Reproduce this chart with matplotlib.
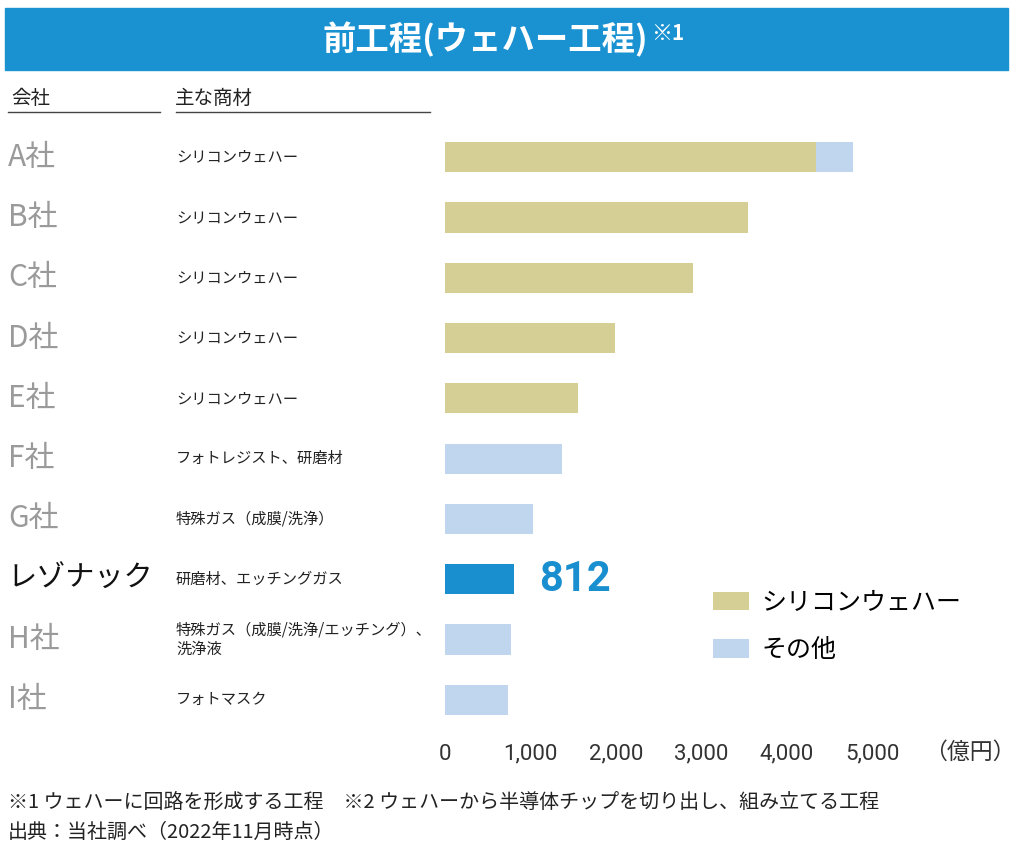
import matplotlib
matplotlib.use("Agg")
import matplotlib.pyplot as plt
from matplotlib.patches import Patch, Rectangle
from matplotlib.lines import Line2D
from matplotlib.transforms import blended_transform_factory

plt.rcParams['font.family'] = ['Noto Sans CJK JP', 'DejaVu Sans']

# data (values in 億円)
companies = ["A社", "B社", "C社", "D社", "E社", "F社", "G社", "レゾナック", "H社", "I社"]
products = [
    "シリコンウェハー",
    "シリコンウェハー",
    "シリコンウェハー",
    "シリコンウェハー",
    "シリコンウェハー",
    "フォトレジスト、研磨材",
    "特殊ガス（成膜/洗浄）",
    "研磨材、エッチングガス",
    "特殊ガス（成膜/洗浄/エッチング）、\n洗浄液",
    "フォトマスク",
]
silicon_wafer = [4340, 3550, 2900, 1990, 1560, 0, 0, 0, 0, 0]
others = [430, 0, 0, 0, 0, 1370, 1030, 812, 770, 740]
highlight = "レゾナック"
xticks = [0, 1000, 2000, 3000, 4000, 5000]
xtick_labels = ["0", "1,000", "2,000", "3,000", "4,000", "5,000"]

OLIVE = "#d5cf95"
LIGHT = "#bfd6ee"
BLUE = "#1a8fcf"
TITLE_BLUE = "#1a92d2"

W, H = 1016, 851
fig = plt.figure(figsize=(W / 100, H / 100), dpi=100)


def fx(px):
    return px / W


def fy(py):
    return 1 - py / H


ax = fig.add_axes([fx(445), fy(730), (915 - 445) / W, (730 - 127) / H])
rows = list(range(len(companies)))
other_colors = [BLUE if c == highlight else LIGHT for c in companies]
ax.barh(rows, silicon_wafer, height=0.5, color=OLIVE)
ax.barh(rows, others, left=silicon_wafer, height=0.5, color=other_colors)
ax.set_xlim(0, 5500)
ax.set_ylim(len(companies) - 0.5, -0.5)
for s in ax.spines.values():
    s.set_visible(False)
ax.set_yticks([])
ax.set_xticks(xticks)
ax.set_xticklabels(xtick_labels, fontfamily='Roboto', fontsize=16, color='#333')
ax.tick_params(axis='x', length=0, pad=10)

# row labels: company + main products
trans = blended_transform_factory(fig.transFigure, ax.transData)
for i, (c, p) in enumerate(zip(companies, products)):
    hl = c == highlight
    ax.text(fx(8), i, c, transform=trans, fontsize=21 if hl else 21.5,
            color='#111' if hl else '#9a9a9a', va='center', ha='left')
    ax.text(fx(176), i, p, transform=trans, fontsize=11, color='#222',
            va='center', ha='left', linespacing=1.2)

# value label for the highlighted bar
hi = companies.index(highlight)
ax.annotate(f"{others[hi]}", xy=(silicon_wafer[hi] + others[hi], hi),
            xytext=(18, 0), textcoords='offset points', va='center', ha='left',
            fontsize=30, fontweight='bold', color=BLUE, fontfamily='Roboto')

# legend
handles = [Patch(facecolor=OLIVE, label="シリコンウェハー"),
           Patch(facecolor=LIGHT, label="その他")]
fig.legend(handles=handles, loc='upper left', bbox_to_anchor=(fx(713), fy(590)),
           frameon=False, fontsize=18, handlelength=1.45, handleheight=0.75,
           handletextpad=0.5, labelspacing=0.85, borderpad=0, borderaxespad=0)

# title bar
fig.add_artist(Rectangle((fx(5), fy(70)), (1008 - 5) / W, 62 / H,
                         transform=fig.transFigure, color=TITLE_BLUE))
fig.text(fx(485), fy(40), "前工程(ウェハー工程)", color='white', fontsize=24,
         fontweight='bold', ha='center', va='center')
fig.text(fx(651), fy(33), "※1", color='white', fontsize=15, fontweight='bold',
         ha='left', va='center')

# column headers
fig.text(fx(11), fy(98), "会社", fontsize=14, va='center', color='#222')
fig.text(fx(175), fy(98), "主な商材", fontsize=14, va='center', color='#222')
fig.add_artist(Line2D([fx(8), fx(160)], [fy(112)] * 2, color='#444', lw=1))
fig.add_artist(Line2D([fx(176), fx(430)], [fy(112)] * 2, color='#444', lw=1))

# unit + footnotes
fig.text(fx(970), fy(752), "（億円）", fontsize=16.5, ha='center', va='center', color='#333')
fig.text(fx(8), fy(802),
         "※1 ウェハーに回路を形成する工程　※2 ウェハーから半導体チップを切り出し、組み立てる工程",
         fontsize=14.4, va='center', color='#222')
fig.text(fx(8), fy(832), "出典：当社調べ（2022年11月時点）", fontsize=14.4,
         va='center', color='#222')

fig.savefig("out.png", dpi=100)
